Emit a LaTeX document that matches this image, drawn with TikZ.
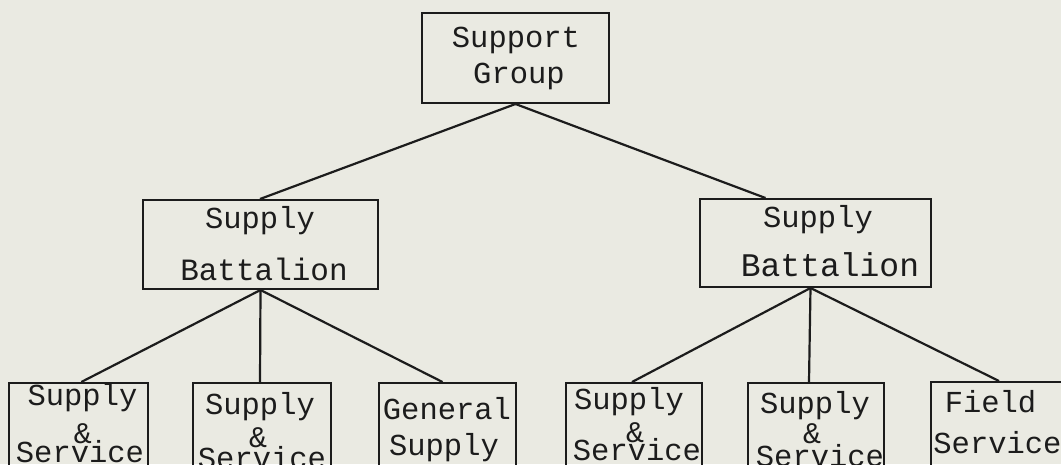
\documentclass[tikz,border=0pt]{standalone}
\usepackage{fontspec}
\newfontfamily\monofont{Liberation Mono}
\definecolor{paper}{RGB}{234,234,226}
\definecolor{ink}{RGB}{28,28,28}
\begin{document}
\begin{tikzpicture}[x=1pt,y=-1pt,
  box/.style={draw=ink, line width=2pt, rectangle, inner sep=0pt},
  lbl/.style={anchor=base, inner sep=0pt, text=ink, font=\monofont\fontsize{30.5}{30.5}\selectfont},
  amp/.style={lbl, font=\monofont\fontsize{30}{30}\selectfont},
  link/.style={draw=ink, line width=2.2pt}]
\fill[paper] (0,0) rectangle (1061,464);
\useasboundingbox (0,0) rectangle (1061,464);
\clip (0,0) rectangle (1061,464);
% boxes
\node[box, minimum width=187pt, minimum height=90pt] (sg) at (515.5,58) {};
\node[box, minimum width=235pt, minimum height=89pt] (lb) at (260.5,244.5) {};
\node[box, minimum width=231pt, minimum height=88pt] (rb) at (815.5,243) {};
\node[box, minimum width=139pt, minimum height=107pt] (b1) at (78.3,436.5) {};
\node[box, minimum width=138pt, minimum height=107pt] (b2) at (262,436.5) {};
\node[box, minimum width=137pt, minimum height=107pt] (b3) at (447.5,436.5) {};
\node[box, minimum width=136pt, minimum height=107pt] (b4) at (634,436.5) {};
\node[box, minimum width=136pt, minimum height=107pt] (b5) at (816,436.5) {};
\node[box, minimum width=136pt, minimum height=108pt] (b6) at (999,436) {};
% texts
\node[lbl] (sg1) at (516,47) {Support};
\node[lbl] (sg2) at (519,83) {Group};
\node[lbl] (lb1) at (260,228) {Supply};
\node[lbl, font=\monofont\fontsize{31}{31}\selectfont] (lb2) at (264,280) {Battalion};
\node[lbl] (rb1) at (818,227) {Supply};
\node[lbl, font=\monofont\fontsize{33}{33}\selectfont] (rb2) at (830,276) {Battalion};
\node[lbl] (b1a) at (82.5,405) {Supply};
\node[amp] (b1b) at (83,443) {\&};
\node[lbl] (b1c) at (80,462) {Service};
\node[lbl] (b2a) at (260,414) {Supply};
\node[amp] (b2b) at (258,447) {\&};
\node[lbl] (b2c) at (262,468) {Service};
\node[lbl] (b3a) at (447,419) {General};
\node[lbl] (b3b) at (444,455) {Supply};
\node[lbl] (b4a) at (629,409) {Supply};
\node[amp] (b4b) at (635,442) {\&};
\node[lbl] (b4c) at (637,460) {Service};
\node[lbl] (b5a) at (815,413) {Supply};
\node[amp] (b5b) at (812,443) {\&};
\node[lbl] (b5c) at (820,466) {Service};
\node[lbl] (b6a) at (990.5,412) {Field};
\node[lbl] (b6b) at (997.5,453) {Service};
% connectors
\draw[link] (sg.south) -- ([xshift=-0.5pt]lb.north);
\draw[link] (sg.south) -- ([xshift=-50pt]rb.north);
\draw[link] (lb.south) -- ([xshift=3pt]b1.north);
\draw[link] (lb.south) -- ([xshift=-2pt]b2.north);
\draw[link] (lb.south) -- ([xshift=-5pt]b3.north);
\draw[link] ([xshift=-5pt]rb.south) -- ([xshift=-2pt]b4.north);
\draw[link] ([xshift=-5pt]rb.south) -- ([xshift=-7pt]b5.north);
\draw[link] ([xshift=-5pt]rb.south) -- (b6.north);
\end{tikzpicture}
\end{document}
